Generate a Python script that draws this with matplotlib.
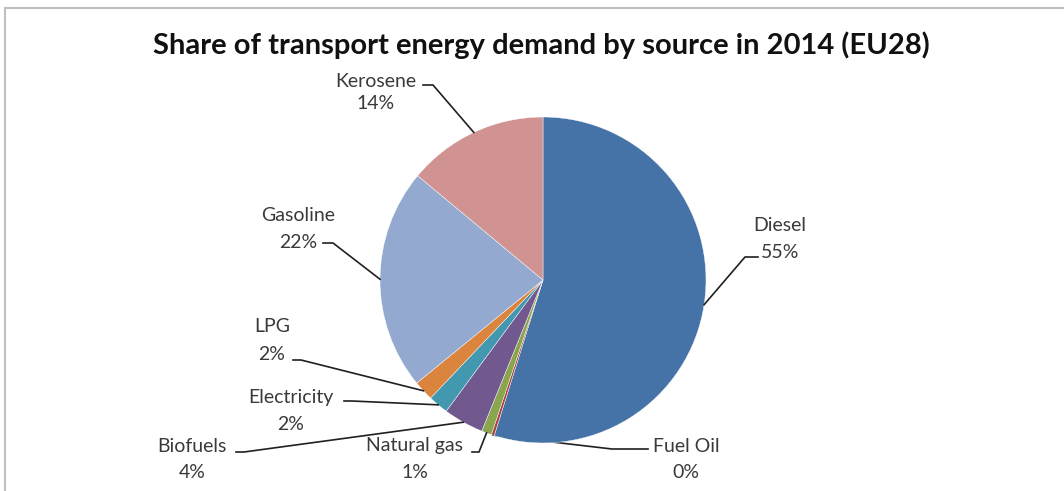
import numpy as np
import matplotlib
matplotlib.use('Agg')
import matplotlib.pyplot as plt
from matplotlib.patches import Rectangle

TITLE = 'Share of transport energy demand by source in 2014 (EU28)'
sources = ['Diesel', 'Fuel Oil', 'Natural gas', 'Biofuels', 'Electricity', 'LPG', 'Gasoline', 'Kerosene']
shares = [55, 0.3, 1, 4, 2, 2, 22, 14]
pct_labels = ['55%', '0%', '1%', '4%', '2%', '2%', '22%', '14%']
colors = ['#4572A7', '#AA4643', '#89A54E', '#71588F', '#4198AF', '#DB843D', '#93A9CF', '#D19392']

W, H = 1064, 491
# label layout in pixel coords: text centre x, name y, pct y, elbow points (from text side)
layout = {
    'Diesel':      (780, 225, 253, [(758, 257), (745, 257)]),
    'Fuel Oil':    (686, 446, 472, [(648, 449), (612, 449)]),
    'Natural gas': (415, 445, 472, [(472, 452), (479, 452)]),
    'Biofuels':    (192, 446, 472, [(236, 452), (244, 452)]),
    'Electricity': (291, 398, 424, [(344, 401), (352, 401)]),
    'LPG':         (272, 326, 354, [(293, 360), (301, 360)]),
    'Gasoline':    (298, 215, 242, [(323, 243), (333, 243)]),
    'Kerosene':    (376, 81, 103, [(423, 85), (433, 85)]),
}

plt.rcParams['font.family'] = ['Lato', 'DejaVu Sans']
fig = plt.figure(figsize=(W / 100, H / 100), dpi=100)
ax = fig.add_axes([0, 0, 1, 1])

cx, cy, r = 543, H - 280, 163
wedges, _ = ax.pie(shares, colors=colors, startangle=90, counterclock=False,
                   center=(cx, cy), radius=r,
                   wedgeprops=dict(edgecolor='white', linewidth=0.3))
ax.set_xlim(0, W)
ax.set_ylim(0, H)
ax.set_aspect('equal')
ax.axis('off')

txt_col = '#3a3a3a'
for w, name, pct in zip(wedges, sources, pct_labels):
    tx, ny, py, elbow = layout[name]
    ax.text(tx, H - ny, name, ha='center', va='center', fontsize=14, color=txt_col)
    ax.text(tx, H - py, pct, ha='center', va='center', fontsize=14, color=txt_col)
    mid = np.deg2rad((w.theta1 + w.theta2) / 2)
    ax_, ay_ = cx + r * np.cos(mid), cy + r * np.sin(mid)
    xs = [p[0] for p in elbow] + [ax_]
    ys = [H - p[1] for p in elbow] + [ay_]
    ax.plot(xs, ys, color='#202020', lw=1.2, zorder=0.5 if name == 'Fuel Oil' else 3)

ax.text(W / 2 + 9, H - 45, TITLE, ha='center', va='center', fontsize=21, fontweight='bold', color='#111111')

# chart frame (cropped)
fig.patches.append(Rectangle((5 / W, -0.1), 1.2, (H - 8) / H + 0.1, transform=fig.transFigure,
                             fill=False, edgecolor='#bfbfbf', lw=1.5))

fig.savefig('out.png', dpi=100, facecolor='white')
